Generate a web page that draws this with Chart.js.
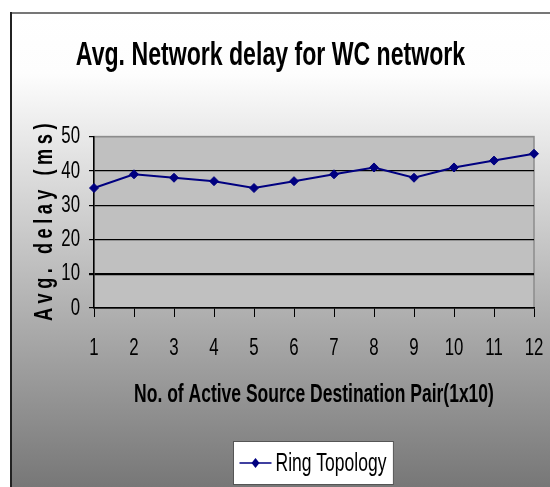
<!DOCTYPE html>
<html>
<head>
<meta charset="utf-8">
<script src="https://cdn.jsdelivr.net/npm/chart.js@4.4.1/dist/chart.umd.min.js"></script>
<style>
  html, body { margin: 0; padding: 0; background: #ffffff; }
  #wrap { width: 550px; height: 487px; position: relative; }
</style>
</head>
<body>
<div id="wrap"><canvas id="c" width="550" height="487"></canvas></div>
<script>
const chartTitle = "Avg. Network delay for WC network";
const xAxisTitle = "No. of Active Source Destination Pair(1x10)";
const yAxisTitle = "Avg. delay (ms)";
const categories = ["1","2","3","4","5","6","7","8","9","10","11","12"];
const seriesName = "Ring Topology";
const ringDelay = [35, 39, 38, 37, 35, 37, 39, 41, 38, 41, 43, 45];
const yTicks = [0, 10, 20, 30, 40, 50];

const FONT = '"Liberation Sans", Arial, "DejaVu Sans Condensed", sans-serif';
const NAVY = '#000080';
const SX = 0.70; // narrow (condensed) rendering of all text, like Arial Narrow
const Y_TITLE_SPACING = 4.5;

const canvas = document.getElementById('c');
const ctx2d = canvas.getContext('2d');
const origFillText = ctx2d.fillText;
ctx2d.fillText = function (t, x, y, mw) {
  this.save();
  this.translate(x, y);
  this.scale(SX, 1);
  if (mw === undefined) origFillText.call(this, t, 0, 0);
  else origFillText.call(this, t, 0, 0, mw / SX);
  this.restore();
};

const backgroundPlugin = {
  id: 'bgPlugin',
  beforeDraw(chart) {
    const ctx = chart.ctx;
    const W = chart.width, H = chart.height;
    ctx.save();
    ctx.fillStyle = '#ffffff';
    ctx.fillRect(0, 0, W, H);
    const g = ctx.createLinearGradient(0, 12, 0, H);
    g.addColorStop(0, '#ffffff');
    g.addColorStop(0.13, '#fdfdfd');
    g.addColorStop(1, '#777777');
    ctx.fillStyle = g;
    ctx.fillRect(11, 12, W - 11, H - 12);
    ctx.strokeStyle = '#777777';
    ctx.lineWidth = 2;
    ctx.beginPath(); ctx.moveTo(11, 13); ctx.lineTo(W, 13); ctx.stroke();
    ctx.strokeStyle = '#222222';
    ctx.beginPath(); ctx.moveTo(11, 12); ctx.lineTo(11, H); ctx.stroke();
    const a = chart.chartArea;
    ctx.fillStyle = '#c0c0c0';
    ctx.fillRect(a.left, a.top, a.right - a.left, a.bottom - a.top);
    ctx.strokeStyle = '#8c8c8c';
    ctx.lineWidth = 1.5;
    ctx.strokeRect(a.left, a.top, a.right - a.left, a.bottom - a.top);
    ctx.restore();
    // letter-spaced y axis title (drawn char by char, centred on the axis)
    const ys = chart.scales.y;
    if (ys && !ys._spacedPatched) {
      ys.drawTitle = function () {
        const opts = this.options.title;
        const size = opts.font.size;
        const lh = size * 1.2;
        const c = this.ctx;
        const chars = Array.from(opts.text);
        const x = this.left + lh / 2 + opts.padding.top;
        const y = (this.top + this.bottom) / 2;
        c.save();
        c.font = (opts.font.weight || '') + ' ' + size + 'px ' + opts.font.family;
        c.fillStyle = opts.color;
        c.textAlign = 'left';
        c.textBaseline = 'middle';
        c.translate(x, y);
        c.rotate(-Math.PI / 2);
        const widths = chars.map(ch => c.measureText(ch).width * SX);
        const total = widths.reduce((s, w) => s + w, 0) + Y_TITLE_SPACING * (chars.length - 1);
        let pos = -total / 2;
        chars.forEach((ch, i) => { c.fillText(ch, pos, 0); pos += widths[i] + Y_TITLE_SPACING; });
        c.restore();
      };
      ys._spacedPatched = true;
    }
    // shift main title slightly left like the reference
    const tb = chart.titleBlock;
    if (tb && !tb._shiftPatched) {
      const origDraw = tb.draw.bind(tb);
      tb.draw = function () {
        const c = this.ctx;
        c.save();
        c.translate(-10, 0);
        origDraw();
        c.restore();
      };
      tb._shiftPatched = true;
    }
  }
};

const legendPlugin = {
  id: 'boxLegend',
  afterDraw(chart) {
    const ctx = chart.ctx;
    const ds = chart.data.datasets[0];
    const a = chart.chartArea;
    ctx.save();
    ctx.font = '25px ' + FONT;
    const tw = ctx.measureText(ds.label).width * SX;
    const lineLen = 32, gap = 4, padL = 6, padR = 7;
    const w = padL + lineLen + gap + tw + padR;
    const h = 43;
    const cx = (a.left + a.right) / 2 - 1;
    const x = Math.round(cx - w / 2) + 0.5;
    const y = chart.height - 46 + 0.5;
    ctx.fillStyle = '#ffffff';
    ctx.fillRect(x, y, w, h);
    ctx.strokeStyle = '#555555';
    ctx.lineWidth = 1;
    ctx.strokeRect(x, y, w, h);
    const my = y + h / 2;
    ctx.strokeStyle = ds.borderColor;
    ctx.lineWidth = 1.5;
    ctx.beginPath(); ctx.moveTo(x + padL, my); ctx.lineTo(x + padL + lineLen, my); ctx.stroke();
    const dx = x + padL + lineLen / 2;
    ctx.fillStyle = ds.pointBackgroundColor;
    ctx.beginPath();
    ctx.moveTo(dx, my - 5); ctx.lineTo(dx + 4, my); ctx.lineTo(dx, my + 5); ctx.lineTo(dx - 4, my);
    ctx.closePath(); ctx.fill();
    ctx.fillStyle = '#000000';
    ctx.textBaseline = 'middle';
    ctx.textAlign = 'left';
    ctx.fillText(ds.label, x + padL + lineLen + gap, my + 1);
    ctx.restore();
  }
};

new Chart(canvas, {
  type: 'line',
  data: {
    labels: categories,
    datasets: [{
      label: seriesName,
      data: ringDelay,
      borderColor: NAVY,
      backgroundColor: NAVY,
      pointBackgroundColor: NAVY,
      pointBorderColor: NAVY,
      borderWidth: 2,
      pointStyle: 'rectRot',
      pointRadius: 4.5,
      pointBorderWidth: 1,
      tension: 0
    }]
  },
  options: {
    responsive: false,
    animation: false,
    events: [],
    layout: { padding: { left: 11, top: 12, right: 0, bottom: 0 } },
    plugins: {
      legend: { display: false },
      tooltip: { enabled: false },
      title: {
        display: true,
        text: chartTitle,
        color: '#000000',
        font: { family: FONT, size: 33, weight: 'bold' },
        padding: { top: 24, bottom: 61 }
      }
    },
    scales: {
      x: {
        type: 'category',
        offset: false,
        afterFit(scale) { scale.height = 179; scale.paddingRight = 16; scale.paddingLeft = 0; },
        grid: {
          drawOnChartArea: false,
          drawTicks: true,
          tickLength: 9,
          color: '#000000',
          tickColor: '#000000'
        },
        border: { display: true, color: '#000000', width: 1.5 },
        ticks: {
          color: '#000000',
          padding: 17,
          maxRotation: 0,
          autoSkip: false,
          font: { family: FONT, size: 24 }
        },
        title: {
          display: true,
          text: xAxisTitle,
          color: '#000000',
          font: { family: FONT, size: 25, weight: 'bold' },
          padding: { top: 0, bottom: 77 }
        }
      },
      y: {
        min: 0,
        max: 50,
        afterFit(scale) { scale.width = 83; },
        afterBuildTicks(scale) { scale.ticks = yTicks.map(v => ({ value: v })); },
        grid: {
          color: (c) => (c.tick && c.tick.value === 50) ? '#8c8c8c' : '#000000',
          lineWidth: (c) => (c.tick && c.tick.value === 10) ? 2.2 : 1.2,
          tickColor: '#000000',
          tickLength: 5
        },
        border: { display: true, color: '#000000', width: 1.5 },
        ticks: {
          color: '#000000',
          padding: 9,
          font: { family: FONT, size: 24 }
        },
        title: {
          display: true,
          text: yAxisTitle,
          color: '#000000',
          font: { family: FONT, size: 26, weight: 'bold' },
          padding: { top: 18, bottom: 0 }
        }
      }
    }
  },
  plugins: [backgroundPlugin, legendPlugin]
});
</script>
</body>
</html>
